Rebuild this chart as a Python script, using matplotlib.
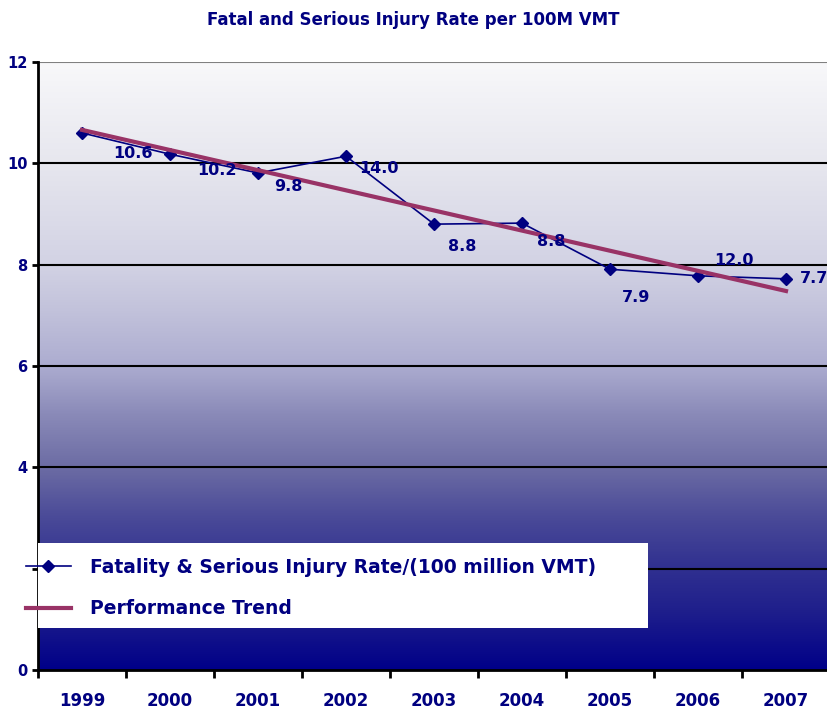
import numpy as np
import matplotlib.pyplot as plt
from matplotlib.colors import LinearSegmentedColormap
from matplotlib.patches import Rectangle

years = ['1999', '2000', '2001', '2002', '2003', '2004', '2005', '2006', '2007']
rate = [10.6, 10.18, 9.81, 10.14, 8.8, 8.82, 7.91, 7.78, 7.72]
point_labels = ['10.6', '10.2', '9.8', '14.0', '8.8', '8.8', '7.9', '12.0', '7.7']
trend_start, trend_end = 10.66, 7.48

navy = '#000080'
plum = '#993366'

fig = plt.figure(figsize=(8.27, 7.13), dpi=100)
ax = fig.add_axes([38 / 827, 1 - 670 / 713, 792 / 827, 608 / 713])

x = np.arange(len(years))
ax.set_xlim(-0.5, len(years) - 0.5)
ax.set_ylim(0, 12)

# gradient background, white-ish at top to navy at bottom
cmap = LinearSegmentedColormap.from_list('bg', [
    (0.0, '#000088'), (0.1, '#20208c'), (0.167, '#303090'),
    (0.25, '#4a4a98'), (0.333, '#6c6ca4'), (0.42, '#8a8ab8'),
    (0.5, '#acacd0'), (0.6, '#c4c4dc'), (0.667, '#d2d2e4'),
    (0.83, '#e6e6ee'), (1.0, '#f8f8fa')])
grad = np.linspace(0, 1, 256).reshape(-1, 1)
ax.imshow(grad, cmap=cmap, aspect='auto', origin='lower',
          extent=[-0.5, len(years) - 0.5, 0, 12], zorder=0)

for yv in [2, 4, 6, 8, 10]:
    ax.axhline(yv, color='black', lw=1.5, zorder=1)
ax.axhline(12, color='#808080', lw=1.5, zorder=1)

ax.plot(x, rate, color=navy, lw=1.2, marker='D', ms=6, zorder=3,
        label='Fatality & Serious Injury Rate/(100 million VMT)')
ax.plot([x[0], x[-1]], [trend_start, trend_end], color=plum, lw=3, zorder=4,
        label='Performance Trend')

offsets = [(37, -15), (34, -12), (22, -10), (24, -9), (20, -16),
           (21, -13), (19, -20), (26, 11), (20, 0)]
for xi, yi, lab, off in zip(x, rate, point_labels, offsets):
    ax.annotate(lab, (xi, yi), xytext=off, textcoords='offset points',
                ha='center', va='center', color=navy, fontsize=11.5,
                fontweight='bold', zorder=5)

ax.set_xticks(x)
ax.set_xticklabels(years)
ax.set_xticks(np.arange(-0.5, len(years)), minor=True)
ax.tick_params(axis='x', which='major', length=0, pad=16, labelsize=12,
               labelcolor=navy)
ax.tick_params(axis='x', which='minor', length=6, width=2, direction='out')
ax.set_yticks([0, 2, 4, 6, 8, 10, 12])
ax.set_yticklabels(['0', '', '4', '6', '8', '10', '12'])
ax.tick_params(axis='y', length=4, width=2, labelsize=10.5, labelcolor=navy)
for lbl in ax.get_xticklabels() + ax.get_yticklabels():
    lbl.set_fontweight('bold')

for side in ['top', 'right']:
    ax.spines[side].set_visible(False)
ax.spines['left'].set_linewidth(2)
ax.spines['bottom'].set_linewidth(2)

fig.patches.append(Rectangle((38 / 827, 1 - 628 / 713), 610 / 827, 85 / 713,
                             transform=fig.transFigure, facecolor='white',
                             edgecolor='none', zorder=5))
leg = fig.legend(loc='upper left', bbox_to_anchor=(9 / 827, 1 - 541 / 713),
                 frameon=False, handlelength=2.4, handletextpad=1.0,
                 labelspacing=1.2, labelcolor=navy,
                 prop={'weight': 'bold', 'size': 13.5})
leg.set_zorder(6)

fig.text(0.5, 1 - 20 / 713, 'Fatal and Serious Injury Rate per 100M VMT',
         ha='center', va='center', color=navy, fontsize=12, fontweight='bold')

fig.savefig('out.png', dpi=100)
